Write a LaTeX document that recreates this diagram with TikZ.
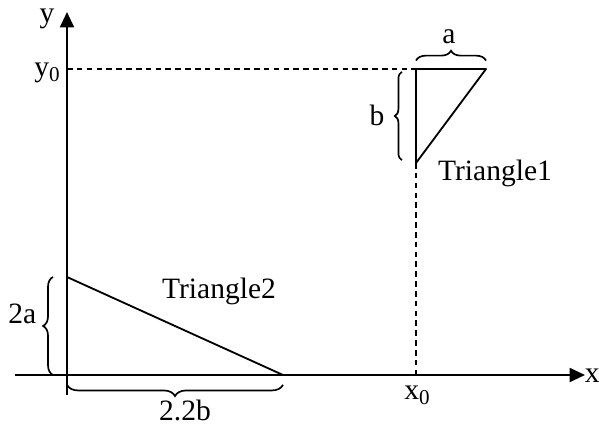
\documentclass[tikz,border=0pt]{standalone}
\usepackage{fontspec}
\setmainfont{Liberation Serif}
\usetikzlibrary{arrows.meta,decorations.pathreplacing}
\tikzset{
  axis/.style={line width=1.5pt,-{Triangle[length=11pt,width=10pt]}},
  tri/.style={line width=1.3pt,line join=round},
  guide/.style={line width=1.2pt,dash pattern=on 4pt off 3pt},
  brc/.style 2 args={decorate,decoration={brace,amplitude=#1,raise=#2},line width=1.2pt},
  lbl/.style={font=\fontsize{21}{25}\selectfont,inner sep=1pt},
}
\newcommand{\lowzero}{\raisebox{-0.35ex}{\fontsize{15}{15}\selectfont 0}}

\begin{document}
\begin{tikzpicture}
    \useasboundingbox (-1.675,-1.25) rectangle (13.3,9.375);
    % axes
    \draw[axis] (-1.3,0) -- (12.95,0);
    \draw[axis] (0,-0.5) -- (0,9.075);
    \node[lbl] (xlab) at (13.13,-0.02) {x};
    \node[lbl] (ylab) at (-0.5,8.9) {y};
    % corners
    \coordinate (O) at (0,0);
    \coordinate (A2) at (0,2.45);
    \coordinate (B2) at (5.4,0);
    \coordinate (A1) at (8.725,7.65);
    \coordinate (B1) at (10.475,7.65);
    \coordinate (C1) at (8.725,5.3);
    \coordinate (Y0) at (0,7.65);
    \coordinate (X0) at (8.725,0);
    % triangles
    \draw[tri] (A1) -- (B1) -- (C1) -- cycle;
    \draw[tri] (O) -- (A2) -- (B2) -- cycle;
    \draw[guide] (Y0) -- (A1);
    \draw[guide] (C1) -- (X0);
    \node[lbl] (y0lab) at (-0.5,7.55) {y\lowzero};
    \node[lbl] (x0lab) at (8.75,-0.5) {x\lowzero};
    % braces
    \draw[brc={7pt}{6pt}] (A1) -- (B1);
    \draw[brc={5pt}{10pt}] ([yshift=2pt]C1) -- ([yshift=-2pt]A1);
    \draw[brc={7pt}{10pt}] (O) -- (A2);
    \draw[brc={8pt}{7pt}] (B2) -- (O);
    \node[lbl] (alab) at (9.55,8.45) {a};
    \node[lbl] (blab) at (7.75,6.5) {b};
    \node[lbl] (twoa) at (-1.12,1.52) {2a};
    \node[lbl] (twob) at (2.95,-0.88) {2.2b};
    \node[lbl] (t1) at (10.7,5.05) {Triangle1};
    \node[lbl] (t2) at (3.8,2.08) {Triangle2};
\end{tikzpicture}
\end{document}
